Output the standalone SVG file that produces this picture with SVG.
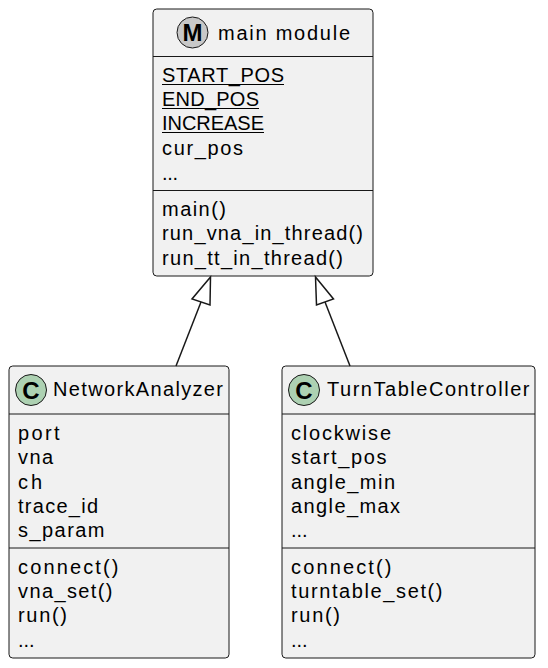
<svg xmlns="http://www.w3.org/2000/svg" width="548" height="668" viewBox="0 0 548 668">
<style>
.box{fill:#F1F1F1;stroke:#181818;stroke-width:1}
.sep{stroke:#181818;stroke-width:1}
.t{font-family:"Liberation Sans",Arial,sans-serif;font-size:20px;fill:#000}
.ul{stroke:#000;stroke-width:1.2}
.icon{font-family:"Liberation Sans",Arial,sans-serif;font-size:24px;font-weight:bold;fill:#000;text-anchor:middle}
.conn line{stroke:#181818;stroke-width:1.5}
.conn polygon{fill:#FFFFFF;stroke:#181818;stroke-width:1.5}
</style>
<rect width="548" height="668" fill="#FFFFFF"/>
<g id="main_module">
<rect class="box" x="153" y="9" width="220" height="267" rx="3.75"/>
<circle cx="192.5" cy="32.5" r="15.5" fill="#C8C8C8" stroke="#181818" stroke-width="1"/>
<text class="icon" x="192.5" y="41" font-family="Liberation Mono,DejaVu Sans Mono,monospace">M</text>
<text class="t" x="218" y="40" textLength="132" lengthAdjust="spacing">main module</text>
<line class="sep" x1="153" y1="56.5" x2="373" y2="56.5"/>
<text class="t" x="162" y="82" textLength="122" lengthAdjust="spacing">START_POS</text>
<line class="ul" x1="162" y1="84.5" x2="284" y2="84.5"/>
<text class="t" x="162" y="106" textLength="97" lengthAdjust="spacing">END_POS</text>
<line class="ul" x1="162" y1="108.5" x2="259" y2="108.5"/>
<text class="t" x="162" y="130" textLength="102" lengthAdjust="spacing">INCREASE</text>
<line class="ul" x1="162" y1="132.5" x2="264" y2="132.5"/>
<text class="t" x="162" y="154.5" textLength="81" lengthAdjust="spacing">cur_pos</text>
<text class="t" x="162" y="179.5" textLength="16" lengthAdjust="spacing">...</text>
<line class="sep" x1="153" y1="190.5" x2="373" y2="190.5"/>
<text class="t" x="162" y="216" textLength="64" lengthAdjust="spacing">main()</text>
<text class="t" x="162" y="240" textLength="201" lengthAdjust="spacing">run_vna_in_thread()</text>
<text class="t" x="162" y="264.5" textLength="181" lengthAdjust="spacing">run_tt_in_thread()</text>
</g>
<g id="NetworkAnalyzer">
<rect class="box" x="9" y="366" width="220" height="292" rx="3.75"/>
<circle cx="31" cy="390" r="15.5" fill="#ADD1B2" stroke="#181818" stroke-width="1"/>
<text class="icon" x="31" y="398.5">C</text>
<text class="t" x="53" y="396" textLength="170" lengthAdjust="spacing">NetworkAnalyzer</text>
<line class="sep" x1="9" y1="414" x2="229" y2="414"/>
<text class="t" x="18" y="440" textLength="41.5" lengthAdjust="spacing">port</text>
<text class="t" x="18" y="464" textLength="35" lengthAdjust="spacing">vna</text>
<text class="t" x="18" y="488.5" textLength="24" lengthAdjust="spacing">ch</text>
<text class="t" x="18" y="512.5" textLength="80" lengthAdjust="spacing">trace_id</text>
<text class="t" x="18" y="537" textLength="86.5" lengthAdjust="spacing">s_param</text>
<line class="sep" x1="9" y1="548" x2="229" y2="548"/>
<text class="t" x="18" y="573.5" textLength="100.5" lengthAdjust="spacing">connect()</text>
<text class="t" x="18" y="597.5" textLength="94.5" lengthAdjust="spacing">vna_set()</text>
<text class="t" x="18" y="622" textLength="49" lengthAdjust="spacing">run()</text>
<text class="t" x="18" y="646.5" textLength="16.5" lengthAdjust="spacing">...</text>
</g>
<g id="TurnTableController">
<rect class="box" x="282" y="366" width="253" height="292" rx="3.75"/>
<circle cx="304" cy="390" r="15.5" fill="#ADD1B2" stroke="#181818" stroke-width="1"/>
<text class="icon" x="304" y="398.5">C</text>
<text class="t" x="327" y="396" textLength="202.5" lengthAdjust="spacing">TurnTableController</text>
<line class="sep" x1="282" y1="414" x2="535" y2="414"/>
<text class="t" x="291" y="440" textLength="100" lengthAdjust="spacing">clockwise</text>
<text class="t" x="291" y="464" textLength="95.5" lengthAdjust="spacing">start_pos</text>
<text class="t" x="291" y="488.5" textLength="104" lengthAdjust="spacing">angle_min</text>
<text class="t" x="291" y="512.5" textLength="109" lengthAdjust="spacing">angle_max</text>
<text class="t" x="291" y="537" textLength="16.5" lengthAdjust="spacing">...</text>
<line class="sep" x1="282" y1="548" x2="535" y2="548"/>
<text class="t" x="291" y="573.5" textLength="100.5" lengthAdjust="spacing">connect()</text>
<text class="t" x="291" y="597.5" textLength="151.5" lengthAdjust="spacing">turntable_set()</text>
<text class="t" x="291" y="622" textLength="49" lengthAdjust="spacing">run()</text>
<text class="t" x="291" y="646.5" textLength="16.5" lengthAdjust="spacing">...</text>
</g>
<g id="connectors" class="conn">
<line x1="176" y1="366" x2="201" y2="302"/>
<polygon points="210.5,277 192,299 210,305"/>
<line x1="350" y1="366" x2="325" y2="302"/>
<polygon points="315.5,277 316.5,305 333.5,299"/>
</g>
</svg>
